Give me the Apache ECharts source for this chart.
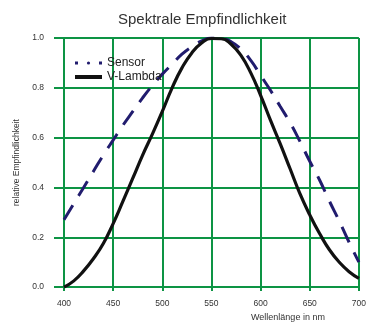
<!DOCTYPE html>
<html>
<head>
<meta charset="utf-8">
<script src="https://cdn.jsdelivr.net/npm/echarts@6/dist/echarts.min.js"></script>
<style>
html,body{margin:0;padding:0;background:#fff;}
#c{width:369px;height:327px;}
</style>
</head>
<body>
<div id="c"></div>
<script>
var wavelengths = [400,410,420,430,440,450,460,470,480,490,500,510,520,530,540,550,560,570,580,590,600,610,620,630,640,650,660,670,680,690,700];
var sensor = [0.27,0.335,0.40,0.465,0.53,0.59,0.65,0.705,0.76,0.81,0.855,0.895,0.935,0.965,0.988,1.0,0.998,0.985,0.955,0.91,0.85,0.79,0.725,0.66,0.585,0.505,0.43,0.345,0.265,0.18,0.10];
var vLambda = [0.0,0.025,0.065,0.115,0.175,0.255,0.345,0.437,0.53,0.615,0.705,0.80,0.88,0.94,0.98,0.998,0.997,0.975,0.93,0.86,0.77,0.67,0.575,0.475,0.375,0.29,0.215,0.15,0.10,0.062,0.035];
var xTicks = [400,450,500,550,600,650,700];
var yTicks = [0.0,0.2,0.4,0.6,0.8,1.0];

function pairs(ys){ return wavelengths.map(function(x,i){ return [x, ys[i]]; }); }

var green = '#0d9444';
var navy = '#211c6e';
var font = 'Liberation Sans, Arial, sans-serif';
var chart = echarts.init(document.getElementById('c'), null, {renderer:'canvas'});
chart.setOption({
  animation:false,
  backgroundColor:'#ffffff',
  title:{
    text:'Spektrale Empfindlichkeit',
    left:113, top:7,
    textStyle:{fontFamily:font, fontSize:15, fontWeight:'normal', color:'#333'}
  },
  legend:{
    orient:'vertical',
    left:68, top:52,
    itemWidth:27, itemHeight:4, itemGap:2,
    textStyle:{fontFamily:font, fontSize:12, color:'#222'},
    data:[
      {name:'Sensor', lineStyle:{type:[3,21], width:3, color:navy}},
      {name:'V-Lambda', lineStyle:{width:4, color:'#111'}}
    ]
  },
  grid:{left:64, right:-3, top:38, bottom:30, containLabel:false},
  xAxis:{
    type:'value', min:xTicks[0], max:xTicks[xTicks.length-1], interval:50,
    name:'Wellenlänge in nm', nameLocation:'middle', nameGap:25,
    nameTextStyle:{fontFamily:font, fontSize:9, color:'#333', padding:[0,0,0,153]},
    axisLine:{show:true, lineStyle:{color:green, width:2}},
    axisTick:{show:true, length:4, lineStyle:{color:green, width:2}},
    axisLabel:{fontFamily:font, fontSize:8.5, color:'#333', margin:12, showMaxLabel:true},
    splitLine:{show:true, lineStyle:{color:green, width:2}}
  },
  yAxis:{
    type:'value', min:yTicks[0], max:yTicks[yTicks.length-1], interval:0.2,
    name:'relative Empfindlichkeit', nameLocation:'middle', nameGap:40,
    nameTextStyle:{fontFamily:font, fontSize:8.5, color:'#333'},
    axisLine:{show:true, lineStyle:{color:green, width:2}},
    axisTick:{show:true, length:10, lineStyle:{color:green, width:2}},
    axisLabel:{fontFamily:font, fontSize:8.5, color:'#333', margin:20,
      formatter:function(v){ return v.toFixed(1); }},
    splitLine:{show:true, lineStyle:{color:green, width:2}}
  },
  series:[
    {name:'Sensor', type:'line', smooth:true, symbol:'none', data:pairs(sensor),
      lineStyle:{color:navy, width:3, type:[17,11]}, itemStyle:{color:navy}, z:3},
    {name:'V-Lambda', type:'line', smooth:true, symbol:'none', data:pairs(vLambda),
      lineStyle:{color:'#111', width:3.2}, itemStyle:{color:'#111'}, z:4}
  ]
});
</script>
</body>
</html>
